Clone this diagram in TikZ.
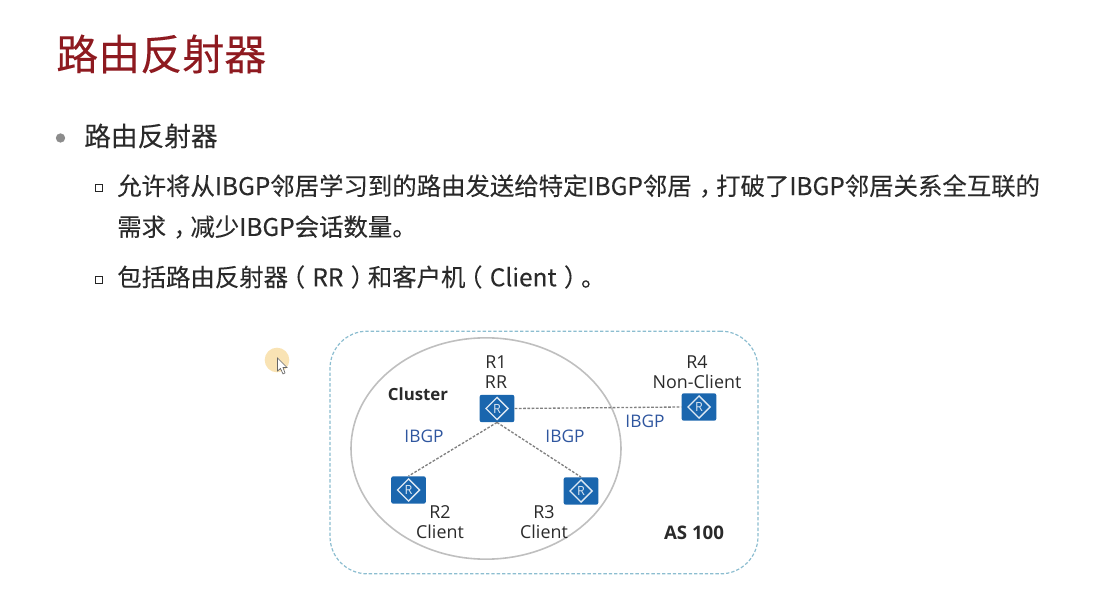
\documentclass[tikz,border=0pt]{standalone}
\usepackage{fontspec}
\setmainfont{Open Sans}
\newfontfamily\cjk{Noto Sans CJK SC}
\newfontfamily\cjkm[FakeBold=0.12]{Noto Sans CJK SC}
\usetikzlibrary{shapes.geometric}
\definecolor{titlered}{HTML}{8E1A20}
\definecolor{bodyk}{HTML}{2A2A2A}
\definecolor{routerblue}{HTML}{1A66AE}
\definecolor{labelblue}{HTML}{2F569F}
\definecolor{asline}{HTML}{8CBDD0}
\definecolor{halocol}{HTML}{F9E3B4}
\newcommand{\cmm}{\kern.3em，\kern-.3em}
\newcommand{\lpar}{\kern-.3em（\kern.3em}
\newcommand{\rpar}{\kern.3em）\kern-.3em}
\tikzset{
  titletext/.style={anchor=west,inner sep=0,text=titlered,font=\cjkm\fontsize{31.5}{36}\selectfont},
  leveltext/.style={anchor=west,inner sep=0,text=bodyk,font=\cjkm\fontsize{20}{24}\selectfont},
  subtext/.style={anchor=west,inner sep=0,text=bodyk,font=\cjkm\fontsize{18.3}{22}\selectfont},
  routerbox/.style={draw=none,fill=routerblue,rounded corners=1.5pt,minimum width=26pt,minimum height=20.5pt,inner sep=0},
  routermark/.style={diamond,draw=white!85!routerblue,line width=1pt,inner sep=0,minimum width=17pt,minimum height=17pt,text=white!85!routerblue,font=\fontsize{9.5}{10}\selectfont},
  devlabel/.style={inner sep=0,text=bodyk,font=\fontsize{13.4}{16}\selectfont},
  boldlabel/.style={inner sep=0,text=bodyk,font=\bfseries\fontsize{12.6}{15}\selectfont},
  aslabel/.style={inner sep=0,text=bodyk,font=\bfseries\fontsize{14}{16}\selectfont},
  sessionlabel/.style={inner sep=0,text=labelblue,font=\fontsize{13}{15}\selectfont},
  session/.style={draw=black!50,line width=1pt,dash pattern=on 2pt off 1.2pt},
  subbullet/.style={draw=black!85,line width=1.1pt,fill=white,minimum size=5pt,inner sep=0}
}
\begin{document}
\begin{tikzpicture}[x=0.75pt,y=-0.75pt]
\useasboundingbox (0,0) rectangle (1111,598);
% title and text
\node[titletext] (title) at (56,54) {路由反射器};
\node[circle,fill=black!45,minimum size=7pt,inner sep=0] (b1) at (60.5,138) {};
\node[leveltext] (l1) at (84,136) {路由反射器};
\node[subbullet] (b2) at (99,188) {};
\node[subtext] (l2) at (117,186) {允许将从IBGP邻居学习到的路由发送给特定IBGP邻居\cmm 打破了IBGP邻居关系全互联的};
\node[subtext] (l3) at (117,227) {需求\cmm 减少IBGP会话数量。};
\node[subbullet] (b3) at (99,280) {};
\node[subtext] (l4) at (117,277) {包括路由反射器\lpar RR\rpar 和客户机\lpar Client\rpar 。};
% cursor highlight
\node[circle,fill=halocol,minimum size=18.5pt,inner sep=0] (halo) at (277,360) {};
\draw[fill=white,draw=black!60,line width=0.5pt] (277.5,358) -- (277.5,371) -- (280.5,368.5) -- (283,374) -- (285,373) -- (283,367.5) -- (287,367.5) -- cycle;
% AS and cluster
\node[draw=asline,line width=0.9pt,dash pattern=on 2.5pt off 1.5pt,rounded corners=28pt,minimum width=321pt,minimum height=182pt,inner sep=0] (as) at (544,452.5) {};
\node[ellipse,draw=black!25,line width=1.2pt,minimum width=202.5pt,minimum height=166pt,inner sep=0] (cluster) at (486,448.5) {};
% routers
\node[routerbox] (r1) at (497,408.5) {};
\node[routerbox] (r2) at (408.5,490) {};
\node[routerbox] (r3) at (581,491) {};
\node[routerbox] (r4) at (699,407) {};
\node[routermark] (m1) at (r1) {R};
\node[routermark] (m2) at (r2) {R};
\node[routermark] (m3) at (r3) {R};
\node[routermark] (m4) at (r4) {R};
% sessions
\draw[session] (r1.south) -- (r2.north);
\draw[session] (r1.south) -- (r3.north);
\draw[session] (r1.east) -- (r4.west);
% labels
\node[devlabel] (t1a) at (496,362) {R1};
\node[devlabel] (t1b) at (496,382) {RR};
\node[devlabel] (t4a) at (697,362) {R4};
\node[devlabel] (t4b) at (697,382) {Non-Client};
\node[devlabel] (t2a) at (440,512) {R2};
\node[devlabel] (t2b) at (440,532) {Client};
\node[devlabel] (t3a) at (544,512) {R3};
\node[devlabel] (t3b) at (544,532) {Client};
\node[boldlabel] (tc) at (418,394) {Cluster};
\node[aslabel] (tas) at (694,533) {AS 100};
\node[sessionlabel] (s1) at (424,436) {IBGP};
\node[sessionlabel] (s2) at (565,436) {IBGP};
\node[sessionlabel] (s3) at (645,421) {IBGP};
\end{tikzpicture}
\end{document}
